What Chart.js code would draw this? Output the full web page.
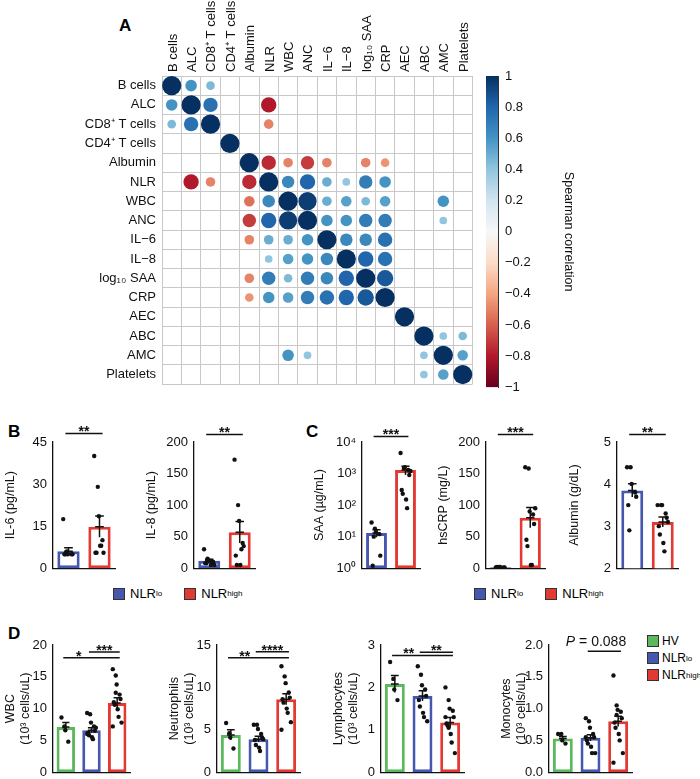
<!DOCTYPE html>
<html>
<head>
<meta charset="utf-8">
<script src="https://cdn.jsdelivr.net/npm/chart.js@4.4.1/dist/chart.umd.min.js"></script>
<style>
  body { margin: 0; background: #fff; font-family: "Liberation Sans", Arial, sans-serif; }
  #page { position: relative; width: 700px; height: 779px; overflow: hidden; }
  .box { position: absolute; }
  .letter { position: absolute; font-weight: bold; font-size: 17px; }
  .legend { position: absolute; font-size: 13px; display: flex; flex-direction: column; gap: 3px; white-space: nowrap; }
  .legend.row { flex-direction: row; gap: 22px; }
  .legend span { display: inline-flex; align-items: center; }
  .legend i { display: inline-block; width: 10px; height: 10px; border: 1px solid #333; margin-right: 5px; }
  sup { font-size: 8px; }
</style>
</head>
<body>
<div id="page">
  <div class="letter" style="left:119px;top:16px">A</div>
  <div class="letter" style="left:8px;top:422px">B</div>
  <div class="letter" style="left:306px;top:422px">C</div>
  <div class="letter" style="left:8px;top:624px">D</div>
  <div class="legend row" style="left:113px;top:586px">
    <span><i style="background:#4657b0"></i>NLR<sup>lo</sup></span>
    <span><i style="background:#e23a33"></i>NLR<sup>high</sup></span>
  </div>
  <div class="legend row" style="left:474px;top:586px">
    <span><i style="background:#4657b0"></i>NLR<sup>lo</sup></span>
    <span><i style="background:#e23a33"></i>NLR<sup>high</sup></span>
  </div>
  <div class="legend" style="left:647px;top:634px;font-size:12px">
    <span><i style="background:#5cb85c;margin-right:3px"></i>HV</span>
    <span><i style="background:#4657b0;margin-right:3px"></i>NLR<sup>lo</sup></span>
    <span><i style="background:#e23a33;margin-right:3px"></i>NLR<sup>high</sup></span>
  </div>
</div>
<script>
// ---- panel A data ----
const corrLabels = ['B cells', 'ALC', 'CD8⁺ T cells', 'CD4⁺ T cells', 'Albumin', 'NLR', 'WBC', 'ANC',
  'IL−6', 'IL−8', 'log₁₀ SAA', 'CRP', 'AEC', 'ABC', 'AMC', 'Platelets'];
// significant correlations only: [row, col, rho]
const corrValues = [
  [0, 0, 1], [0, 1, 0.6], [0, 2, 0.45],
  [1, 0, 0.6], [1, 1, 1], [1, 2, 0.75], [1, 5, -0.8],
  [2, 0, 0.45], [2, 1, 0.75], [2, 2, 1], [2, 5, -0.5],
  [3, 3, 1],
  [4, 4, 1], [4, 5, -0.75], [4, 6, -0.5], [4, 7, -0.7], [4, 8, -0.5], [4, 10, -0.5], [4, 11, -0.45],
  [5, 1, -0.8], [5, 2, -0.5], [5, 4, -0.75], [5, 5, 1], [5, 6, 0.65], [5, 7, 0.8], [5, 8, 0.5], [5, 9, 0.4], [5, 10, 0.7], [5, 11, 0.6],
  [6, 4, -0.55], [6, 5, 0.65], [6, 6, 1], [6, 7, 0.95], [6, 8, 0.5], [6, 9, 0.55], [6, 10, 0.45], [6, 11, 0.55], [6, 14, 0.6],
  [7, 4, -0.7], [7, 5, 0.8], [7, 6, 0.95], [7, 7, 1], [7, 8, 0.6], [7, 9, 0.6], [7, 10, 0.7], [7, 11, 0.7], [7, 14, 0.4],
  [8, 4, -0.5], [8, 5, 0.5], [8, 6, 0.5], [8, 7, 0.6], [8, 8, 1], [8, 9, 0.65], [8, 10, 0.65], [8, 11, 0.75],
  [9, 5, 0.4], [9, 6, 0.55], [9, 7, 0.6], [9, 8, 0.65], [9, 9, 1], [9, 10, 0.8], [9, 11, 0.75],
  [10, 4, -0.5], [10, 5, 0.7], [10, 6, 0.45], [10, 7, 0.7], [10, 8, 0.65], [10, 9, 0.8], [10, 10, 1], [10, 11, 0.85],
  [11, 4, -0.45], [11, 5, 0.6], [11, 6, 0.55], [11, 7, 0.7], [11, 8, 0.75], [11, 9, 0.8], [11, 10, 0.85], [11, 11, 1],
  [12, 12, 1],
  [13, 13, 1], [13, 14, 0.4], [13, 15, 0.45],
  [14, 6, 0.6], [14, 7, 0.4], [14, 13, 0.4], [14, 14, 1], [14, 15, 0.55],
  [15, 13, 0.4], [15, 14, 0.55], [15, 15, 1]
];
const colorbarTicks = [1, 0.8, 0.6, 0.4, 0.2, 0, -0.2, -0.4, -0.6, -0.8, -1];

// ---- panel B/C data ----
const nlrGroups = ['NLRlo', 'NLRhigh'];
const il6Mean = [6, 14.8], il6Sem = [1.3, 3.8];
const il6Dots = [[17.5, 6, 5, 5, 5, 5, 5], [40, 29, 18.5, 10, 5.5, 5.5, 5.5, 8, 8]];
const il8Mean = [12, 57], il8Sem = [2, 17];
const il8Dots = [[30, 15, 12, 10, 10, 8, 8, 12, 5, 5], [172, 100, 75, 40, 35, 20, 5, 5, 30]];
const saaMean = [13, 1300], saaSem = [3.5, 400];
const saaDots = [[28, 18, 14, 12, 2.5, 1.2, 10], [4500, 1500, 1600, 1300, 900, 300, 230, 150, 80, 1200]];
const crpMean = [1.5, 80], crpSem = [0.3, 16];
const crpDots = [[1, 2, 2, 1, 1, 2, 1], [160, 158, 90, 85, 70, 45, 35, 5, 5, 95]];
const albMean = [3.85, 3.1], albSem = [0.16, 0.12];
const albDots = [[4.4, 4.4, 4.0, 3.8, 3.7, 3.5, 2.9], [3.5, 3.5, 3.5, 3.3, 3.2, 3.0, 2.8, 2.6, 2.4, 3.1]];

// ---- panel D data ----
const dGroups = ['HV', 'NLRlo', 'NLRhigh'];
const wbcMean = [7.1, 6.6, 10.9], wbcSem = [0.7, 0.4, 0.8];
const wbcDots = [[8.6, 7.2, 6.6, 4.8], [9.3, 9.1, 7.8, 7.2, 6.5, 6.2, 5.8, 5.5, 5.2, 7.0, 6.0],
  [16.2, 15.2, 13.8, 12.2, 11.5, 11.0, 10.6, 9.9, 8.7, 7.8, 7.2, 12.5]];
const neuMean = [4.4, 3.9, 8.6], neuSem = [0.6, 0.35, 0.65];
const neuDots = [[5.8, 4.6, 4.1, 2.8], [5.6, 5.6, 5.1, 4.5, 4.1, 3.8, 3.2, 2.9, 2.5, 3.9],
  [12.5, 11.3, 10.5, 9.4, 8.8, 8.6, 8.2, 7.5, 7.0, 5.9, 5.0]];
const lymMean = [2.08, 1.8, 1.17], lymSem = [0.2, 0.12, 0.12];
const lymDots = [[2.6, 2.2, 1.95, 1.7], [2.5, 2.3, 2.05, 1.95, 1.8, 1.7, 1.55, 1.4, 1.3, 1.2],
  [2.0, 1.7, 1.5, 1.45, 1.3, 1.15, 1.1, 0.9, 0.7, 0.45, 1.3, 1.05]];
const monMean = [0.53, 0.54, 0.8], monSem = [0.03, 0.05, 0.08];
const monDots = [[0.6, 0.6, 0.5, 0.45], [0.85, 0.8, 0.7, 0.6, 0.55, 0.5, 0.45, 0.4, 0.3, 0.3, 0.55],
  [1.52, 1.05, 0.98, 0.95, 0.85, 0.78, 0.7, 0.6, 0.5, 0.3, 0.15, 0.9]];

const FONT = '"Liberation Sans", Arial, sans-serif';
Chart.defaults.font.family = FONT;
Chart.defaults.color = '#111';
Chart.defaults.animation = false;
Chart.defaults.plugins.legend.display = false;
Chart.defaults.plugins.tooltip.enabled = false;

const page = document.getElementById('page');
function addCanvas(left, top, width, height) {
  const d = document.createElement('div');
  d.className = 'box';
  Object.assign(d.style, { left: left + 'px', top: top + 'px', width: width + 'px', height: height + 'px' });
  const c = document.createElement('canvas');
  d.appendChild(c);
  page.appendChild(d);
  return c;
}

// RdBu colour map
const rdbu = ['#67001f', '#b2182b', '#d6604d', '#f4a582', '#fddbc7', '#f7f7f7',
  '#d1e5f0', '#92c5de', '#4393c3', '#2166ac', '#053061'];
function hex(h) { return [1, 3, 5].map(i => parseInt(h.substr(i, 2), 16)); }
function rdbuColor(v) {
  const t = (v + 1) / 2 * (rdbu.length - 1);
  const i = Math.min(Math.floor(t), rdbu.length - 2), f = t - i;
  const a = hex(rdbu[i]), b = hex(rdbu[i + 1]);
  return 'rgb(' + a.map((x, k) => Math.round(x + (b[k] - x) * f)).join(',') + ')';
}

// ---- A: correlation matrix ----
const corrPoints = corrValues.map(([r, c, v]) => ({ x: corrLabels[c], y: corrLabels[r], v }));
new Chart(addCanvas(0, 0, 482, 398), {
  type: 'bubble',
  data: {
    datasets: [{
      data: corrPoints,
      backgroundColor: ctx => (ctx.raw ? rdbuColor(ctx.raw.v) : '#888'),
      borderWidth: 0,
      hoverRadius: 0,
      radius: ctx => {
        if (!ctx.raw) return 3;
        const s = ctx.chart.scales.x;
        const cell = s && s.width ? s.width / corrLabels.length : 20;
        return Math.abs(ctx.raw.v) * cell * 0.48;
      }
    }]
  },
  options: {
    responsive: true, maintainAspectRatio: false,
    layout: { padding: { right: 2, bottom: 2 } },
    scales: {
      x: {
        type: 'category', labels: corrLabels, position: 'top', offset: true,
        grid: { offset: true, color: '#c8c8c8', drawTicks: false },
        border: { color: '#c8c8c8' },
        ticks: { maxRotation: 90, minRotation: 90, font: { size: 13 }, padding: 4, labelOffset: 17 },
        afterFit: s => { s.height = 76; }
      },
      y: {
        type: 'category', labels: corrLabels, offset: true,
        grid: { offset: true, color: '#c8c8c8', drawTicks: false },
        border: { color: '#c8c8c8' },
        ticks: { font: { size: 13 }, padding: 6 },
        afterFit: s => { s.width = 162; }
      }
    }
  }
});

// colour bar
new Chart(addCanvas(470, 0, 110, 398), {
  type: 'bar',
  data: {
    labels: [''],
    datasets: [{
      data: [[-1, 1]],
      barPercentage: 1, categoryPercentage: 1,
      backgroundColor: ctx => {
        const a = ctx.chart.chartArea;
        if (!a) return '#fff';
        const g = ctx.chart.ctx.createLinearGradient(0, a.bottom, 0, a.top);
        rdbu.forEach((c, i) => g.addColorStop(i / (rdbu.length - 1), c));
        return g;
      }
    }]
  },
  options: {
    responsive: true, maintainAspectRatio: false,
    layout: { padding: { left: 16, top: 76, bottom: 2 } },
    scales: {
      x: { display: false },
      y: {
        position: 'right', min: -1, max: 1,
        afterBuildTicks: s => { s.ticks = colorbarTicks.map(v => ({ value: v })); },
        ticks: { font: { size: 13 }, callback: v => String(Math.round(v * 10) / 10).replace('-', '−') },
        grid: { display: false, drawTicks: true, tickLength: 4 },
        border: { color: '#333' },
        title: { display: true, text: 'Spearman correlation', font: { size: 12.5 } },
        afterFit: s => { s.width = 82; }
      }
    }
  }
});

// ---- bar + dots charts ----
const barColors = { HV: '#5cb85c', NLRlo: '#4657b0', NLRhigh: '#e23a33' };

const errAndBrackets = {
  id: 'errAndBrackets',
  afterDraw(chart, args, opts) {
    const { ctx } = chart, x = chart.scales.x, y = chart.scales.y;
    const cw = x.width / chart.data.labels.length;
    ctx.save();
    ctx.strokeStyle = '#111'; ctx.lineWidth = 1.5;
    opts.means.forEach((m, i) => {
      const px = x.getPixelForValue(i);
      const y1 = y.getPixelForValue(m + opts.sems[i]);
      const y0 = y.getPixelForValue(Math.max(m - opts.sems[i], y.min));
      ctx.beginPath();
      ctx.moveTo(px, y0); ctx.lineTo(px, y1);
      ctx.moveTo(px - cw * 0.14, y1); ctx.lineTo(px + cw * 0.14, y1);
      ctx.moveTo(px - cw * 0.14, y.getPixelForValue(m)); ctx.lineTo(px + cw * 0.14, y.getPixelForValue(m));
      ctx.stroke();
    });
    (opts.brackets || []).forEach(b => {
      const py = y.getPixelForValue(b.y);
      const xa = x.getPixelForValue(b.from) - cw * 0.1, xb = x.getPixelForValue(b.to) + cw * 0.1;
      ctx.beginPath(); ctx.moveTo(xa, py); ctx.lineTo(xb, py); ctx.stroke();
    });
    ctx.fillStyle = '#111';
    ctx.textBaseline = 'bottom';
    (opts.brackets || []).forEach(b => {
      const py = y.getPixelForValue(b.y);
      const atV = (b.at === undefined) ? (b.from + b.to) / 2 : b.at;
      const lx = x.getPixelForValue(atV);
      if (b.pval) {
        ctx.font = 'italic 14px ' + FONT;
        const pw = ctx.measureText('P').width;
        ctx.font = '14px ' + FONT;
        const rest = ' = ' + b.pval;
        const w = pw + ctx.measureText(rest).width;
        ctx.textAlign = 'left';
        ctx.font = 'italic 14px ' + FONT;
        ctx.fillText('P', lx - w / 2, py - 2);
        ctx.font = '14px ' + FONT;
        ctx.fillText(rest, lx - w / 2 + pw, py - 2);
      } else {
        ctx.font = 'bold 14px ' + FONT;
        ctx.textAlign = 'center';
        ctx.fillText(String(b.label), lx, py + 6);
      }
    });
    ctx.restore();
  }
};

function barChart(spec) {
  const n = spec.groups.length;
  const yW = spec.yWidth || 50, padTop = 26;
  const left = spec.axisX - yW, top = spec.top - padTop;
  const canvas = addCanvas(left, top, spec.right - left + 4, spec.bottom - top + 9);
  const dots = [];
  spec.dots.forEach((arr, g) => arr.forEach((v, k) => {
    dots.push({ x: g + ((k % 5) - 2) * 0.075 + (k % 2 ? 0.02 : -0.02), y: v });
  }));
  const yScale = Object.assign({
    grid: { display: false, drawTicks: true, tickLength: 4, color: '#111' },
    border: { color: '#111', width: 1.3 },
    ticks: { font: { size: 13 }, padding: 2 },
    title: { display: true, text: spec.title, font: { size: 12.5 }, padding: 0 },
    afterFit: s => { s.width = yW; }
  }, spec.y);
  new Chart(canvas, {
    data: {
      labels: spec.groups,
      datasets: [
        {
          type: 'bar', order: 1, data: spec.means, grouped: false,
          backgroundColor: '#fff', borderColor: spec.groups.map(g => barColors[g]),
          borderWidth: 3, borderSkipped: false, barPercentage: 0.72, categoryPercentage: 1
        },
        {
          type: 'scatter', order: 0, xAxisID: 'x2', data: dots,
          pointRadius: 2.2, backgroundColor: '#111', borderWidth: 0
        }
      ]
    },
    options: {
      responsive: true, maintainAspectRatio: false,
      layout: { padding: { top: padTop, right: 4 } },
      plugins: { errAndBrackets: { means: spec.means, sems: spec.sems, brackets: spec.brackets } },
      scales: {
        x: {
          offset: true,
          grid: { display: false, drawTicks: true, tickLength: 5, color: '#111', offset: false },
          border: { color: '#111', width: 1.3 },
          ticks: { callback: () => '', padding: 0 },
          afterFit: s => { s.height = 7; }
        },
        x2: { type: 'linear', display: false, min: -0.5, max: n - 0.5 },
        y: yScale
      }
    },
    plugins: [errAndBrackets]
  });
}

const sup = { 0: '⁰', 1: '¹', 2: '²', 3: '³', 4: '⁴' };

barChart({ groups: nlrGroups, means: il6Mean, sems: il6Sem, dots: il6Dots, title: 'IL-6 (pg/mL)',
  axisX: 53, right: 115, top: 442, bottom: 569,
  y: { min: 0, max: 45, ticks: { stepSize: 15, font: { size: 13 }, padding: 2 } },
  brackets: [{ from: 0, to: 1, y: 48, label: '**', at: 0.5 }] });
barChart({ groups: nlrGroups, means: il8Mean, sems: il8Sem, dots: il8Dots, title: 'IL-8 (pg/mL)',
  axisX: 194, right: 255, top: 442, bottom: 569,
  y: { min: 0, max: 200, ticks: { stepSize: 50, font: { size: 13 }, padding: 2 } },
  brackets: [{ from: 0, to: 1, y: 212, label: '**', at: 0.5 }] });
barChart({ groups: nlrGroups, means: saaMean, sems: saaSem, dots: saaDots, title: 'SAA (µg/mL)',
  axisX: 362, right: 420, top: 442, bottom: 569,
  y: { type: 'logarithmic', min: 1, max: 10000,
    afterBuildTicks: s => { s.ticks = [1, 10, 100, 1000, 10000].map(v => ({ value: v })); },
    ticks: { font: { size: 13 }, padding: 2, callback: v => '10' + sup[Math.round(Math.log10(v))] } },
  brackets: [{ from: 0, to: 1, y: 15000, label: '***', at: 0.5 }] });
barChart({ groups: nlrGroups, means: crpMean, sems: crpSem, dots: crpDots, title: 'hsCRP (mg/L)',
  axisX: 486, right: 545, top: 442, bottom: 569,
  y: { min: 0, max: 200, ticks: { stepSize: 50, font: { size: 13 }, padding: 2 } },
  brackets: [{ from: 0, to: 1, y: 212, label: '***', at: 0.5 }] });
barChart({ groups: nlrGroups, means: albMean, sems: albSem, dots: albDots, title: 'Albumin (g/dL)',
  axisX: 617, right: 678, top: 442, bottom: 569,
  y: { min: 2, max: 5, ticks: { stepSize: 1, font: { size: 13 }, padding: 2 } },
  brackets: [{ from: 0, to: 1, y: 5.18, label: '**', at: 0.5 }] });

barChart({ groups: dGroups, means: wbcMean, sems: wbcSem, dots: wbcDots, title: ['WBC', '(10³ cells/uL)'],
  axisX: 53, right: 130, top: 645, bottom: 773, yWidth: 50,
  y: { min: 0, max: 20, ticks: { stepSize: 5, font: { size: 13 }, padding: 2 } },
  brackets: [{ from: 0, to: 2, y: 18, label: '*', at: 0.5 }, { from: 1, to: 2, y: 18.9, label: '***', at: 1.5 }] });
barChart({ groups: dGroups, means: neuMean, sems: neuSem, dots: neuDots, title: ['Neutrophils', '(10³ cells/uL)'],
  axisX: 217, right: 300, top: 645, bottom: 773, yWidth: 50,
  y: { min: 0, max: 15, ticks: { stepSize: 5, font: { size: 13 }, padding: 2 } },
  brackets: [{ from: 0, to: 2, y: 13.5, label: '**', at: 0.5 }, { from: 1, to: 2, y: 14.2, label: '****', at: 1.5 }] });
barChart({ groups: dGroups, means: lymMean, sems: lymSem, dots: lymDots, title: ['Lymphocytes', '(10³ cells/uL)'],
  axisX: 381, right: 464, top: 645, bottom: 773, yWidth: 50,
  y: { min: 0, max: 3, ticks: { stepSize: 1, font: { size: 13 }, padding: 2 } },
  brackets: [{ from: 0, to: 2, y: 2.75, label: '**', at: 0.5 }, { from: 1, to: 2, y: 2.83, label: '**', at: 1.5 }] });
barChart({ groups: dGroups, means: monMean, sems: monSem, dots: monDots, title: ['Monocytes', '(10³ cells/uL)'],
  axisX: 549, right: 632, top: 645, bottom: 773, yWidth: 50,
  y: { min: 0, max: 2, ticks: { stepSize: 0.5, font: { size: 13 }, padding: 2, callback: v => v.toFixed(1) } },
  brackets: [{ from: 1, to: 2, y: 1.9, pval: '0.088', at: 1.2 }] });
</script>
</body>
</html>
